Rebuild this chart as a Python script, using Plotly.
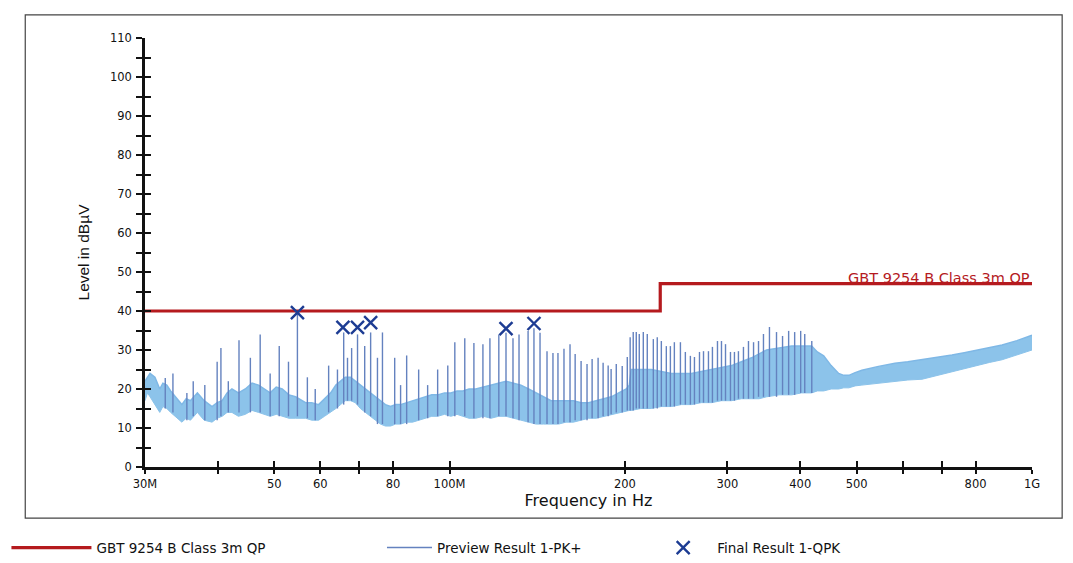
import plotly.graph_objects as go

# ---- data (frequency in MHz, level in dBµV) ----
limit_freq = [30, 230, 230, 1000]
limit_level = [40, 40, 47, 47]

# noise band of the preview scan: lower and upper envelope
band_freq = [30.0, 30.3, 30.6, 31.2, 31.8, 32.2, 32.7, 33.2, 33.8, 34.7, 35.3, 35.9,
             36.9, 37.4, 37.9, 39.1, 39.9, 40.7, 41.5, 42.3, 43.4, 44.6, 45.8, 47.0,
             48.1, 49.2, 50.4, 51.6, 53.0, 54.4, 56.6, 58.0, 59.6, 61.0, 62.5, 63.8,
             65.0, 66.2, 67.6, 68.9, 70.3, 71.8, 73.2, 74.6, 76.1, 77.6, 79.2, 80.8,
             82.4, 84.3, 86.4, 88.6, 91.0, 93.2, 95.4, 98.0, 100.5, 103.0, 105.4,
             108.0, 110.9, 114.3, 117.8, 121.4, 125.0, 128.8, 132.6, 136.7, 140.8,
             145.0, 149.4, 153.9, 158.5, 163.2, 168.2, 173.3, 178.5, 184.0, 189.5,
             195.2, 201.1, 203.5, 205.1, 213.0, 222.0, 231.0, 240.3, 250.0, 260.1,
             270.6, 281.6, 293.0, 304.8, 317.0, 330.0, 340.0, 350.2, 368.0, 386.7,
             402.0, 418.5, 428.0, 438.9, 452.0, 465.7, 475.0, 484.8, 497.0, 510.4,
             545.0, 581.7, 612.0, 647.4, 688.0, 728.8, 765.0, 804.9, 845.0, 888.6,
             942.0, 1000.0]
band_low = [17, 19, 18, 16, 14, 15.5, 15, 14, 13, 11.5, 12.5, 12,
            14, 13, 12, 11.5, 12.5, 13, 14, 14, 13, 13.5, 14.5, 14,
            13.5, 13, 13.5, 13, 12.5, 12.5, 12.5, 12, 12, 13, 14, 15,
            16, 17, 17, 16.5, 15, 14, 13, 12, 11, 10.5, 10.5, 11,
            11, 11.5, 11.5, 12, 12.5, 13, 13, 13.5, 13, 13.5, 13,
            12.5, 12.5, 13, 12.5, 13, 13, 12.5, 12, 11.5, 11,
            11, 11, 11, 11.5, 11.5, 12, 12.5, 12.5, 13, 13.5,
            14, 14.5, 14.5, 14.5, 15, 15, 15.5, 15.5, 16, 16,
            16.5, 16.5, 17, 17, 17.5, 17.5, 17.5, 18, 18.5, 18.5,
            19, 19, 19.5, 19.5, 20, 20, 20.3, 20.3, 20.8, 21,
            21.5, 22, 22.3, 22.5, 23.5, 24.5, 25.3, 26, 26.8, 27.5,
            28.8, 30]
band_high = [22, 23, 24, 23, 20, 21.5, 21, 19.5, 18, 16, 17.5, 17,
             19, 18, 17, 15.5, 16.5, 17, 19, 20, 19, 20, 21.5, 21,
             20, 19, 20.5, 20, 18.5, 18, 16.5, 16.5, 16, 17.5, 19, 21,
             22, 23, 23, 22, 21, 20, 19, 18, 17, 16, 15.5, 16,
             16, 16.5, 17, 17.5, 18, 18.5, 18.5, 19, 19, 19.5, 19.5,
             20, 20, 20.5, 21, 21.5, 22, 21.5, 21, 20, 19,
             18, 17, 17, 17, 17, 16.5, 16.5, 17, 17.5, 18,
             19, 20, 21, 25, 25, 25, 24.5, 24, 24, 24,
             24.5, 25, 25.5, 26, 27, 28, 29, 30, 30.5, 31,
             31, 31, 29.5, 28.5, 26, 24, 23.5, 23.5, 24.2, 24.8,
             25.8, 26.6, 27, 27.5, 28.1, 28.7, 29.3, 30, 30.6, 31.3,
             32.4, 33.8]

# narrow-band peaks of the preview scan
spike_freq = [32.5, 33.5, 35.4, 36.3, 38.0, 39.9, 40.5, 41.7, 43.5, 45.5, 47.3, 49.2,
              51.0, 52.9, 54.8, 57.0, 58.8, 62.0, 64.2, 65.8, 66.8, 67.9, 69.5, 71.5,
              73.2, 75.2, 76.7, 80.5, 82.4, 84.4, 88.5, 91.7, 95.4, 99.3, 102.1, 106.2,
              110.1, 114.1, 117.3, 121.5, 125.0, 128.5, 131.6, 136.4, 139.6, 143.0,
              147.0, 150.5, 153.5, 157.2, 161.0, 164.3, 168.2, 172.2, 175.7, 179.9,
              183.5, 187.2, 189.4, 193.3, 197.9, 201.9, 204.2, 206.7, 209.2, 211.7,
              215.1, 218.5, 223.8, 227.3, 231.0, 235.6, 239.4, 243.2, 249.1, 254.0,
              259.1, 263.3, 268.6, 272.9, 278.3, 282.7, 288.4, 293.0, 297.7, 303.6,
              308.4, 313.3, 319.6, 326.0, 332.6, 339.2, 345.9, 354.2, 364.2, 373.0,
              382.1, 391.3, 400.7, 407.2, 418.7]
spike_peak = [22.8, 24, 19, 22, 21, 27, 30.5, 22, 32.5, 28, 34, 24,
              31, 27, 39.5, 23, 20, 26, 25, 34.5, 28, 30.5, 34, 31,
              34.5, 28, 34.5, 28, 21, 28.6, 25, 21, 25, 26, 32, 33,
              31.8, 31.5, 33, 34, 34.4, 33, 34, 34.9, 35.6, 34.4,
              29.7, 29.2, 29.2, 30.3, 31.5, 29, 27.2, 26.4, 27.7, 28,
              26.7, 26, 25.1, 26.4, 25.9, 28.2, 33.3, 34.6, 34.6, 34.1,
              34.6, 34.1, 32.8, 33.3, 32.3, 31, 31, 32, 32, 29.5,
              28.5, 28.2, 29.5, 29.7, 29.7, 30.8, 32.3, 32.3, 31.5, 29.5,
              29.5, 29.7, 30.8, 32.3, 32, 32.3, 34.1, 35.9, 34.6, 33.6,
              34.9, 34.6, 34.9, 34.1, 32.3]
spike_base = [15, 14, 12, 13, 12, 12, 13, 14, 14, 14, 14, 13,
              13, 13, 13, 12.5, 12, 14, 15, 16, 17, 17, 16, 14,
              13, 11, 11, 11, 11, 11, 12, 12.5, 13, 13, 13, 13,
              12.5, 12.5, 12.5, 13, 13, 12.5, 12, 11.5, 11, 11,
              11, 11, 11, 11.5, 11.5, 12, 12, 12, 12.5, 12.5,
              13, 13, 13.5, 14, 14, 14.5, 14.5, 14.5, 15, 15,
              15, 15, 15, 15, 15.5, 15.5, 15.5, 15.5, 16, 16,
              16, 16, 16.5, 16.5, 16.5, 16.5, 17, 17, 17, 17,
              17, 17.5, 17.5, 17.5, 17.5, 18, 18, 18, 18, 18.5,
              18.5, 18.5, 19, 19, 19]

# final quasi-peak measurements
final_freq = [54.8, 65.6, 69.5, 73.2, 125.0, 139.6]
final_level = [39.6, 35.8, 35.8, 37.0, 35.5, 36.8]

# axis ticks
x_tickvals = [30, 40, 50, 60, 70, 80, 100, 200, 300, 400, 500, 600, 700, 800, 1000]
x_ticktext = ["30M", "", "50", "60", "", "80", "100M", "200", "300", "400", "500",
              "", "", "800", "1G"]
y_tickvals = list(range(0, 111, 5))
y_ticktext = [str(v) if v % 10 == 0 else "" for v in y_tickvals]

FONT = "DejaVu Sans, Liberation Sans, sans-serif"
RED = "#b51a1e"
BAND = "#8cc3ea"
SPIKE = "#6482bf"
MARK = "#1d3c93"

fig = go.Figure()

# noise band
fig.add_trace(go.Scatter(x=band_freq, y=band_low, mode="lines",
                         line=dict(color=BAND, width=1), showlegend=False,
                         hoverinfo="skip"))
fig.add_trace(go.Scatter(x=band_freq, y=band_high, mode="lines", fill="tonexty",
                         fillcolor=BAND, line=dict(color="#7fb8e6", width=1.5),
                         showlegend=False, hoverinfo="skip"))

# peaks as vertical segments
sx, sy = [], []
for f, b, p in zip(spike_freq, spike_base, spike_peak):
    sx += [f, f, None]
    sy += [b, p, None]
fig.add_trace(go.Scatter(x=sx, y=sy, mode="lines", line=dict(color=SPIKE, width=1.4),
                         name="Preview Result 1-PK+", legend="legend2"))

# limit line
fig.add_trace(go.Scatter(x=limit_freq, y=limit_level, mode="lines",
                         line=dict(color=RED, width=3.2),
                         name="GBT 9254 B Class 3m QP", legend="legend"))

# final results (drawn on the overlay axes, same scale)
fig.add_trace(go.Scatter(x=final_freq, y=final_level, mode="markers",
                         marker=dict(symbol="x-thin", size=13,
                                     line=dict(color=MARK, width=2.4)),
                         name="Final Result 1-QPK", legend="legend3",
                         xaxis="x2", yaxis="y2"))

xr = [1.4771, 3.0]
yr = [0, 110]
tickfont = dict(family=FONT, size=11.5, color="#111")
legfont = dict(family=FONT, size=13.5, color="#111")

fig.update_layout(
    width=1073, height=563,
    margin=dict(l=145, r=41, t=38, b=96, autoexpand=False),
    paper_bgcolor="white", plot_bgcolor="white",
    font=dict(family=FONT, color="#111"),
    xaxis=dict(type="log", range=xr, tickvals=x_tickvals, ticktext=x_ticktext,
               ticks="outside", ticklen=4, tickwidth=1.5, tickcolor="#111",
               showline=True, linecolor="#111", linewidth=2.5, showgrid=False,
               zeroline=False, tickfont=tickfont, ticklabelstandoff=0,
               title=dict(text="Frequency in Hz", font=dict(family=FONT, size=16),
                          standoff=2)),
    yaxis=dict(range=yr, tickvals=y_tickvals, ticktext=y_ticktext,
               ticks="outside", ticklen=6, tickwidth=1.5, tickcolor="#111",
               showline=True, linecolor="#111", linewidth=2.5, showgrid=False,
               zeroline=False, tickfont=tickfont, ticklabelstandoff=2,
               title=dict(text="Level in dBµV",
                          font=dict(family="Liberation Sans, Arial, sans-serif",
                                    size=15.5),
                          standoff=17)),
    xaxis2=dict(type="log", range=xr, overlaying="x", tickvals=x_tickvals,
                ticks="inside", ticklen=6, tickwidth=1.5, tickcolor="#111",
                showticklabels=False, showline=False, showgrid=False,
                zeroline=False),
    yaxis2=dict(range=yr, overlaying="y", tickvals=y_tickvals,
                ticks="inside", ticklen=6, tickwidth=1.5, tickcolor="#111",
                showticklabels=False, showline=False, showgrid=False,
                zeroline=False),
    legend=dict(x=0.006, y=0.027, xref="container", yref="container",
                xanchor="left", yanchor="middle", orientation="h", itemwidth=80,
                bgcolor="rgba(0,0,0,0)", font=legfont),
    legend2=dict(x=0.356, y=0.027, xref="container", yref="container",
                 xanchor="left", yanchor="middle", orientation="h", itemwidth=45,
                 bgcolor="rgba(0,0,0,0)", font=legfont),
    legend3=dict(x=0.605, y=0.027, xref="container", yref="container",
                 xanchor="left", yanchor="middle", orientation="h", itemwidth=58,
                 bgcolor="rgba(0,0,0,0)", font=legfont),
    annotations=[dict(x=3.0, y=47, xref="x", yref="y", text="GBT 9254 B Class 3m QP",
                      showarrow=False, xanchor="right", yanchor="bottom", yshift=-4,
                      font=dict(family=FONT, size=14.5, color=RED))],
    shapes=[dict(type="rect", xref="paper", yref="paper",
                 x0=-0.135, x1=1.034, y0=-0.119, y1=1.054,
                 line=dict(color="#444", width=1.2))],
)

fig.write_html("out.html")
